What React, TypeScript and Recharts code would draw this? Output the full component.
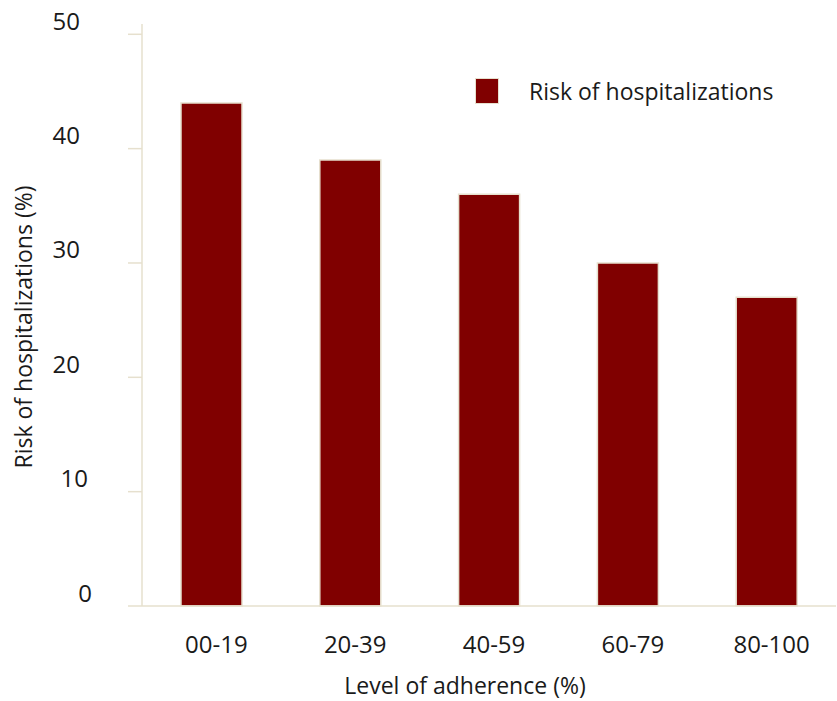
import React from "react";
import { Bar, BarChart, Legend, XAxis, YAxis } from "recharts";

const categories = ["00-19", "20-39", "40-59", "60-79", "80-100"];
const risk = [44, 39, 36, 30, 27];
const yTicks = [0, 10, 20, 30, 40, 50];
const edgeTicks = [0, 1, 2, 3, 4, 5];

const data = categories.map((c, i) => ({ level: c, risk: risk[i] }));

const FONT = "'Open Sans', sans-serif";
const AXIS = "#E6E0CE";
const BAR = "#800000";
const TEXT = "#1a1a1a";
// the source's lower tick labels sit a little further right
const yLabelShift = [12, 8, 0, 0, 0, 0];

function YTick({ x, y, payload, index }: any) {
  return (
    <text
      x={x + (yLabelShift[index] || 0)}
      y={y - 13}
      dy="0.355em"
      textAnchor="end"
      fill={TEXT}
      fontSize={24}
      fontFamily={FONT}
    >
      {payload.value}
    </text>
  );
}

function LegendBox({ payload }: any) {
  return (
    <div style={{ display: "flex", alignItems: "center", fontFamily: FONT }}>
      {(payload || []).map((p: any) => (
        <React.Fragment key={p.value}>
          <span
            style={{
              width: 22,
              height: 24,
              background: BAR,
              border: `1px solid ${AXIS}`,
              display: "inline-block",
            }}
          />
          <span style={{ marginLeft: 30, fontSize: 23, color: TEXT }}>{p.value}</span>
        </React.Fragment>
      ))}
    </div>
  );
}

export default function App() {
  return (
    <div style={{ position: "absolute", left: 0, top: 0, width: 837, height: 701, overflow: "hidden" }}>
      <BarChart
        width={837}
        height={701}
        data={data}
        margin={{ top: 24, right: 1, bottom: 0, left: 8 }}
        style={{ fontFamily: FONT }}
      >
        {/* boundary ticks between categories */}
        <XAxis
          xAxisId="edges"
          type="number"
          domain={[0, 5]}
          ticks={edgeTicks}
          height={0}
          axisLine={false}
          tickSize={7}
          tickLine={{ stroke: AXIS, strokeWidth: 1.5 }}
          tickFormatter={() => ""}
        />
        <XAxis
          dataKey="level"
          height={95}
          tickLine={false}
          tickSize={0}
          tickMargin={30}
          axisLine={{ stroke: AXIS, strokeWidth: 1.5 }}
          tick={{ fill: TEXT, fontSize: 24, dx: 5 }}
          label={{
            value: "Level of adherence (%)",
            position: "insideBottom",
            offset: 7,
            dx: -24,
            fill: TEXT,
            fontSize: 23,
          }}
        />
        <YAxis
          width={134}
          type="number"
          domain={[0, 50.9]}
          ticks={yTicks}
          tickSize={14}
          tickMargin={48}
          axisLine={{ stroke: AXIS, strokeWidth: 1.5 }}
          tickLine={{ stroke: AXIS, strokeWidth: 1.5 }}
          tick={<YTick />}
          label={{
            value: "Risk of hospitalizations (%)",
            angle: -90,
            position: "insideLeft",
            offset: 16,
            dy: 12,
            fill: TEXT,
            fontSize: 23,
            style: { textAnchor: "middle" },
          }}
        />
        <Legend
          layout="vertical"
          align="center"
          verticalAlign="middle"
          content={<LegendBox />}
          wrapperStyle={{ top: 75, left: 475, width: "auto" }}
        />
        <Bar
          dataKey="risk"
          name="Risk of hospitalizations"
          fill={BAR}
          stroke={AXIS}
          strokeWidth={1.5}
          barSize={61}
          isAnimationActive={false}
        />
      </BarChart>
    </div>
  );
}
